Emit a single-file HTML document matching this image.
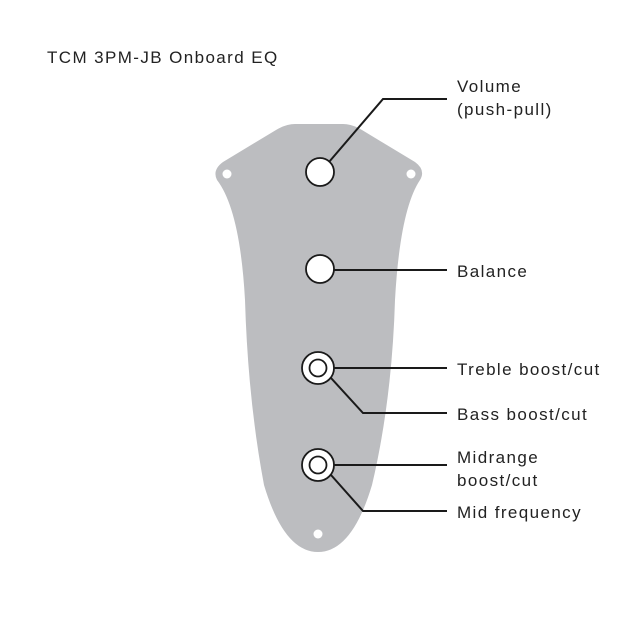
<!DOCTYPE html>
<html><head><style>
body{margin:0;background:#fff;}
svg{display:block;}
text{font-family:"Liberation Sans",sans-serif;font-size:17px;fill:#222;letter-spacing:1.4px;}
</style></head><body>
<svg width="640" height="643" viewBox="0 0 640 643">
<text x="47" y="63">TCM 3PM-JB Onboard EQ</text>
<path d="M295,124 L343,124 Q352,124 362,130 L415,162 Q426,170 420,180 Q400,210 395,300 Q392,400 372,485 Q352,552 318,552 Q284,552 264,485 Q248,400 245,300 Q240,210 217,180 Q212,170 223,162 L276,130 Q286,124 295,124 Z" fill="#bcbdc0"/>
<circle cx="227" cy="174" r="4.5" fill="#fff"/>
<circle cx="411" cy="174" r="4.5" fill="#fff"/>
<circle cx="318" cy="534" r="4.5" fill="#fff"/>
<g stroke="#1a1a1a" stroke-width="2" fill="none">
<polyline points="329,162 383,99 447,99"/>
<line x1="334" y1="270" x2="447" y2="270"/>
<line x1="334" y1="368" x2="447" y2="368"/>
<polyline points="331,378 363,413 447,413"/>
<line x1="334" y1="465" x2="447" y2="465"/>
<polyline points="331,475 363,511 447,511"/>
</g>
<g stroke="#1a1a1a" stroke-width="1.8" fill="#fff">
<circle cx="320" cy="172" r="14"/>
<circle cx="320" cy="269" r="14"/>
<circle cx="318" cy="368" r="16"/>
<circle cx="318" cy="368" r="8.5"/>
<circle cx="318" cy="465" r="16"/>
<circle cx="318" cy="465" r="8.5"/>
</g>
<text x="457" y="92">Volume</text>
<text x="457" y="115">(push-pull)</text>
<text x="457" y="277">Balance</text>
<text x="457" y="375">Treble boost/cut</text>
<text x="457" y="420">Bass boost/cut</text>
<text x="457" y="463">Midrange</text>
<text x="457" y="486">boost/cut</text>
<text x="457" y="518">Mid frequency</text>
</svg>
</body></html>
